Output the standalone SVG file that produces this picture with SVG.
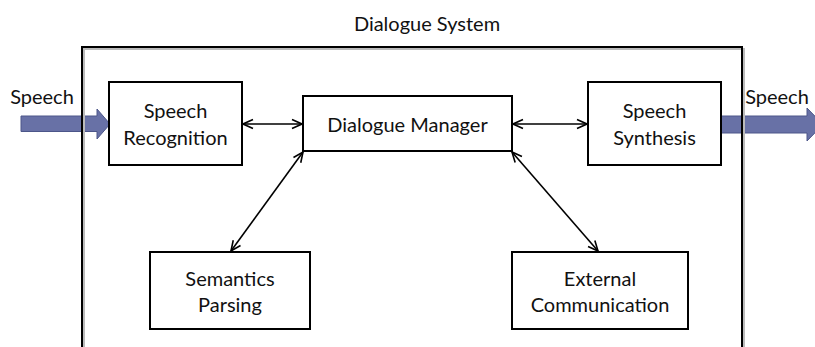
<svg xmlns="http://www.w3.org/2000/svg" width="815" height="347" viewBox="0 0 815 347">
<defs>
<style>
text{font-family:Lato,"Open Sans","Liberation Sans",sans-serif;font-size:20px;fill:#111;text-anchor:middle}
.box{fill:#fff;stroke:#000;stroke-width:2}
.con{stroke:#000;stroke-width:1.6;fill:none;marker-start:url(#ah);marker-end:url(#ah)}
.fat{fill:#6871a6;stroke:#4c5689;stroke-width:1}
</style>
<marker id="ah" viewBox="0 0 12 12" refX="11" refY="6" markerWidth="12" markerHeight="12" markerUnits="userSpaceOnUse" orient="auto-start-reverse">
<path d="M1,1.5 L11,6 L1,10.5" fill="none" stroke="#000" stroke-width="1.6"/>
</marker>
</defs>
<rect width="815" height="347" fill="#fff"/>
<g id="input-arrow">
<polygon class="fat" points="21,116 97,116 97,109 110,124 97,139 97,131.5 21,131.5"/>
<text x="42" y="104">Speech</text>
</g>
<g id="output-arrow">
<polygon class="fat" points="721,116 807,116 807,108 823,124.5 807,141 807,133 721,133"/>
<text x="777" y="104">Speech</text>
</g>
<g id="dialogue-system">
<path d="M84,347 V49 H744 V347" fill="none" stroke="#bbb" stroke-width="2"/>
<path d="M82,347 V47 H742 V347" fill="none" stroke="#000" stroke-width="2"/>
<text x="427" y="31">Dialogue System</text>
</g>
<g id="connectors">
<line class="con" x1="243" y1="124" x2="302" y2="124"/>
<line class="con" x1="513" y1="124" x2="587" y2="124"/>
<line class="con" x1="303" y1="152" x2="231" y2="251"/>
<line class="con" x1="512" y1="152" x2="598" y2="251"/>
</g>
<g id="speech-recognition">
<rect class="box" x="109" y="82" width="133" height="83"/>
<text x="175.5" y="118">Speech</text>
<text x="175.5" y="145">Recognition</text>
</g>
<g id="dialogue-manager">
<rect class="box" x="303" y="96" width="209" height="55"/>
<text x="407.5" y="132">Dialogue Manager</text>
</g>
<g id="speech-synthesis">
<rect class="box" x="588" y="82" width="133" height="83"/>
<text x="654.5" y="118">Speech</text>
<text x="654.5" y="145">Synthesis</text>
</g>
<g id="semantics-parsing">
<rect class="box" x="150" y="252" width="160" height="77"/>
<text x="230" y="286">Semantics</text>
<text x="230" y="312">Parsing</text>
</g>
<g id="external-communication">
<rect class="box" x="512" y="252" width="176" height="77"/>
<text x="600" y="286">External</text>
<text x="600" y="312">Communication</text>
</g>
</svg>
